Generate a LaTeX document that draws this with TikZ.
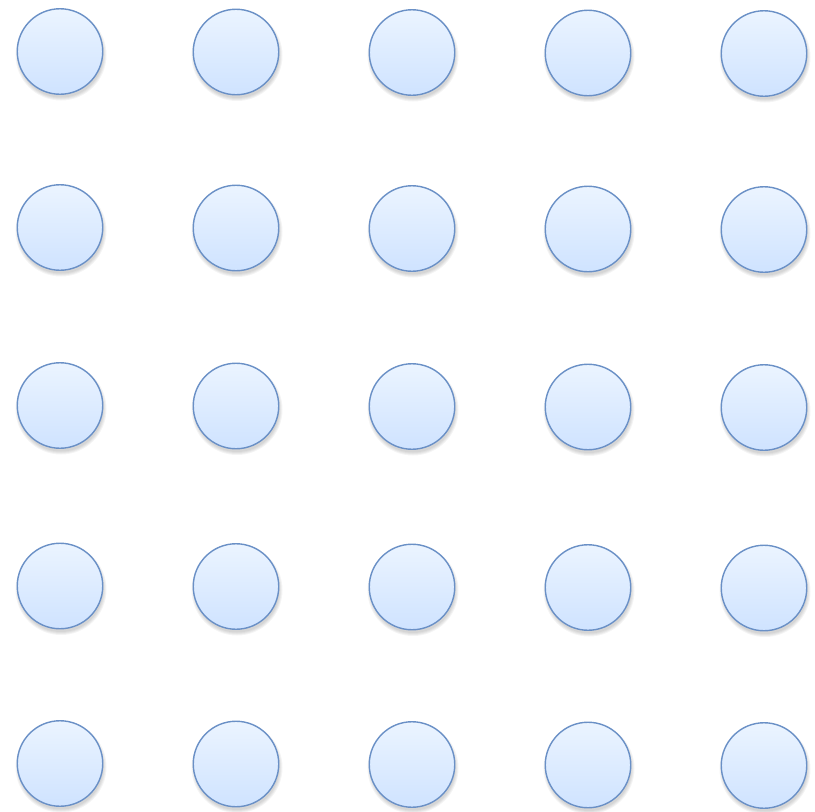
\documentclass[tikz,border=0pt]{standalone}
\definecolor{strk}{HTML}{6A90C6}
\definecolor{topc}{HTML}{EBF4FF}
\definecolor{botc}{HTML}{CFE3FF}
\tikzset{
  dot/.style={circle, draw=strk, line width=1.4pt, minimum size=85.5pt, inner sep=0pt,
    top color=topc, bottom color=botc},
  softshadow/.style={fill=black, fill opacity=0.045, draw=none}
}
\begin{document}
\begin{tikzpicture}[x=1pt,y=1pt]
\useasboundingbox (0,0) rectangle (815,-812);
\foreach \c/\x in {1/60,2/236,3/412,4/588,5/764}{
  \pgfmathsetmacro{\dy}{(\c-1)*0.5}
  \foreach \r/\y in {1/51.5,2/227.5,3/405.5,4/586,5/763.5}{
    \foreach \s in {45.5,44.5,43.5,42.5}{
      \fill[softshadow] (\x+1,{-(\y+\dy)-3.5}) circle (\s);
    }
    \node[dot] (n\r\c) at (\x,{-(\y+\dy)}) {};
  }
}
\end{tikzpicture}
\end{document}
